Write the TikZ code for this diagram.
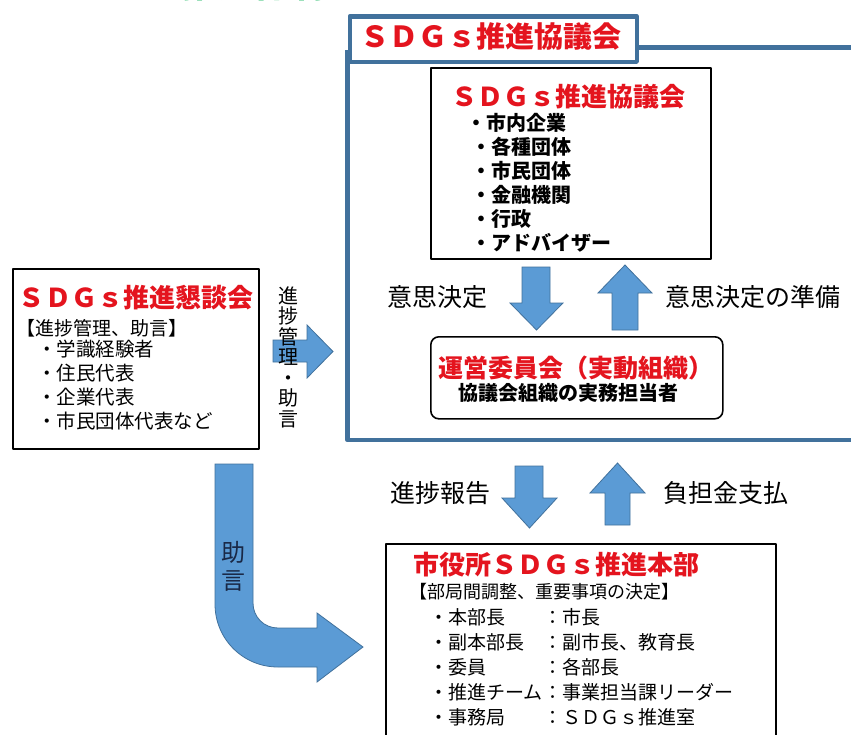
\documentclass[tikz,border=0pt]{standalone}
\usepackage{fontspec}
\setmainfont{Noto Sans CJK JP}
\definecolor{sdgred}{RGB}{228,20,30}
\definecolor{framblue}{RGB}{65,113,156}
\definecolor{arrowfill}{RGB}{91,155,213}
\definecolor{arrowline}{RGB}{65,113,156}
\definecolor{headgreen}{RGB}{0,176,80}
\definecolor{navytext}{RGB}{25,40,70}
\newcommand{\jfs}[2]{\fontsize{#1}{#2}\selectfont}
\tikzset{
  plainbox/.style={draw=black, line width=1.6pt, fill=white},
  redtitle/.style={text=sdgred, font=\bfseries\jfs{26}{30}},
  memberlist/.style={align=left, font=\bfseries\jfs{20}{24}},
  itemlist/.style={align=left, font=\jfs{19.5}{24}},
  flowlabel/.style={font=\jfs{25}{28}},
  blockarrow/.style={fill=arrowfill, draw=arrowline, line width=0.8pt, line join=miter},
  frameline/.style={draw=framblue, line width=4.5pt}
}
\begin{document}
\begin{tikzpicture}[x=1pt, y=-1pt, line join=round, line cap=round, every node/.style={inner sep=0pt}]
\useasboundingbox (0,0) rectangle (851,734);
\clip (0,0) rectangle (851,734);
\fill[white] (0,0) rectangle (851,734);

% heading, cut by the top edge
\node[anchor=base west, text=headgreen, font=\bfseries\jfs{36}{40}] (heading) at (2,-3) {ＳＤＧｓの推進体制};

% outer frame of the council
\draw[frameline, line cap=butt] (347.5,50) -- (347.5,440) -- (860,440);
\node[draw=framblue, line width=4.5pt, fill=white, anchor=north west,
      minimum width=287pt, minimum height=45.5pt] (tab) at (347.5,14) {};
\node[text=sdgred, font=\bfseries\jfs{29}{32}] (tabtitle) at (491,37) {ＳＤＧｓ推進協議会};
\draw[frameline, line cap=butt] (tab.north east) ++(0,33.5) -- (860,47.5);

% council members
\node[plainbox, anchor=north west, minimum width=280pt, minimum height=191pt] (council) at (430,67) {};
\node[redtitle] (counciltitle) at (568,97) {ＳＤＧｓ推進協議会};
\node[memberlist, anchor=north west] (members) at (471,113)
  {\hspace*{-5pt}・市内企業\\・各種団体\\・市民団体\\・金融機関\\・行政\\・アドバイザー};

% steering committee
\node[plainbox, rounded corners=8pt, anchor=north west, minimum width=292pt, minimum height=82pt] (steering) at (430,336) {};
\node[text=sdgred, font=\bfseries\jfs{25}{28}] (steertitle) at (576,368) {運営委員会（実動組織）};
\node[font=\bfseries\jfs{20}{24}] (steersub) at (568,393) {協議会組織の実務担当者};

% arrows between council and committee
\draw[blockarrow] (522,267) -- (550,267) -- (550,303) -- (563,303) -- (536.5,330) -- (510,303) -- (522,303) -- cycle;
\draw[blockarrow] (612,330) -- (638,330) -- (638,293) -- (652,293) -- (625,265) -- (598,293) -- (612,293) -- cycle;
\node[flowlabel] (decide) at (437.5,297) {意思決定};
\node[flowlabel] (prepare) at (753,297) {意思決定の準備};

% advisory forum
\node[plainbox, anchor=north west, minimum width=246pt, minimum height=180pt] (forum) at (12,268) {};
\node[redtitle] (forumtitle) at (136,298) {ＳＤＧｓ推進懇談会};
\node[anchor=west, font=\jfs{19}{24}] (forumrole) at (16,328) {【進捗管理、助言】};
\node[itemlist, anchor=north west] (forumitems) at (37,340)
  {・学識経験者\\・住民代表\\・企業代表\\・市民団体代表など};

% forum to council
\draw[blockarrow] (273,340) -- (307,340) -- (307,325) -- (333,351.5) -- (307,378) -- (307,362) -- (273,362) -- cycle;
\node[align=center, font=\jfs{20}{20.5}] (advise) at (288,357) {進\\捗\\管\\理\\・\\助\\言};

% arrows between council frame and headquarters
\draw[blockarrow] (515,466) -- (543,466) -- (543,498) -- (557,498) -- (529.5,528) -- (502,498) -- (515,498) -- cycle;
\draw[blockarrow] (605,525) -- (630,525) -- (630,493) -- (645,493) -- (617.5,463) -- (590,493) -- (605,493) -- cycle;
\node[flowlabel] (report) at (440,493) {進捗報告};
\node[flowlabel] (payment) at (726,493) {負担金支払};

% city headquarters
\node[plainbox, anchor=north west, minimum width=390pt, minimum height=200pt] (hq) at (385,543) {};
\node[redtitle] (hqtitle) at (556,565) {市役所ＳＤＧｓ推進本部};
\node[anchor=west, font=\jfs{18}{24}] (hqrole) at (409,592) {【部局間調整、重要事項の決定】};
\node[align=left, anchor=north west, font=\jfs{19}{25}] (hqposts) at (429,608)
  {・本部長\\・副本部長\\・委員\\・推進チーム\\・事務局};
\node[align=left, anchor=north west, font=\jfs{19}{25}] (hqnames) at (543,608)
  {：市長\\：副市長、教育長\\：各部長\\：事業担当課リーダー\\：ＳＤＧｓ推進室};

% advice from forum to headquarters
\draw[blockarrow] (215,464) -- (215,604) .. controls (215,639) and (243,667) .. (278,667)
  -- (317,667) -- (317,682) -- (363,647) -- (317,613) -- (317,628) -- (278,628)
  .. controls (264,628) and (253,617) .. (253,603) -- (253,464) -- cycle;
\node[align=center, text=navytext, font=\jfs{24}{28}] (advice) at (233,566) {助\\言};
\end{tikzpicture}
\end{document}
